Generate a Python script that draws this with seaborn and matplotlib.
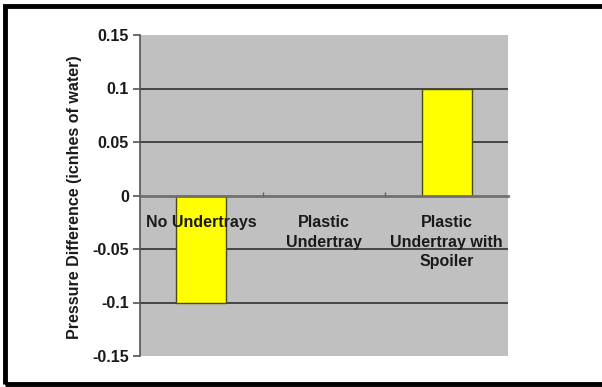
import matplotlib
matplotlib.use("Agg")
import matplotlib.pyplot as plt
from matplotlib.patches import Rectangle
from matplotlib.ticker import FixedLocator
import seaborn as sns
import pandas as pd

categories = ["No Undertrays", "Plastic\nUndertray", "Plastic\nUndertray with\nSpoiler"]
pressure_diff = [-0.1, 0.0, 0.1]
y_ticks = [-0.15, -0.1, -0.05, 0, 0.05, 0.1, 0.15]
y_tick_labels = ["-0.15", "-0.1", "-0.05", "0", "0.05", "0.1", "0.15"]
y_label = "Pressure Difference (icnhes of water)"

df = pd.DataFrame({"setup": categories, "diff": pressure_diff})

sns.set_style("white")
plt.rcParams["font.family"] = ["Liberation Sans", "DejaVu Sans"]

W, H = 602, 387
fig = plt.figure(figsize=(W / 100, H / 100), dpi=100)
fig.patch.set_facecolor("white")

left, right, top, bottom = 140, 508, 35, 356
ax = fig.add_axes([left / W, 1 - bottom / H, (right - left) / W, (bottom - top) / H])
ax.set_facecolor("#c0c0c0")
ax.set_axisbelow(False)

sns.barplot(data=df, x="setup", y="diff", color="#ffff00", width=0.41,
            edgecolor="#4a4a10", linewidth=1.0, saturation=1, ax=ax, zorder=2)
# a zero-height bar leaves no visible outline
for patch in ax.patches:
    if patch.get_height() == 0:
        patch.set_linewidth(0)

ax.set_xlim(-0.5, 2.5)
ax.set_ylim(-0.15, 0.15)

# horizontal gridlines
for v in y_ticks:
    if v not in (0, -0.15, 0.15):
        ax.axhline(v, color="#3c3c3c", lw=1.3, zorder=1)

# spines: left axis visible, category axis crossing at zero
for s in ("top", "right"):
    ax.spines[s].set_visible(False)
ax.spines["left"].set_color("#555555")
ax.spines["left"].set_linewidth(1.2)
ax.spines["bottom"].set_position(("data", 0))
ax.spines["bottom"].set_color("#707070")
ax.spines["bottom"].set_linewidth(2.0)

font_kw = dict(fontsize=11.5, fontweight="bold", color="#1a1a1a")

ax.set_yticks(y_ticks)
ax.set_yticklabels(y_tick_labels, **font_kw)
ax.tick_params(axis="y", direction="out", length=5, width=1.2, color="#555555", pad=3, left=True)

ax.set_xticks(range(len(categories)))
ax.set_xticklabels(categories, linespacing=1.38, **font_kw)
ax.tick_params(axis="x", which="major", length=0, pad=14, bottom=True)
ax.xaxis.set_minor_locator(FixedLocator([0.5, 1.5]))
ax.tick_params(axis="x", which="minor", direction="in", length=3, width=1, color="#606060", bottom=True)
ax.set_xlabel("")

ax.set_ylabel(y_label, **font_kw)
ax.yaxis.label.set_va("center")
ax.yaxis.set_label_coords(-0.177, 0.494)

# outer frame
fig.patches.append(Rectangle((4.5 / W, 3.5 / H), (W + 10) / W, (H - 9) / H,
                             transform=fig.transFigure, fill=False,
                             edgecolor="black", lw=3.5, zorder=10))

fig.savefig("out.png", dpi=100)
